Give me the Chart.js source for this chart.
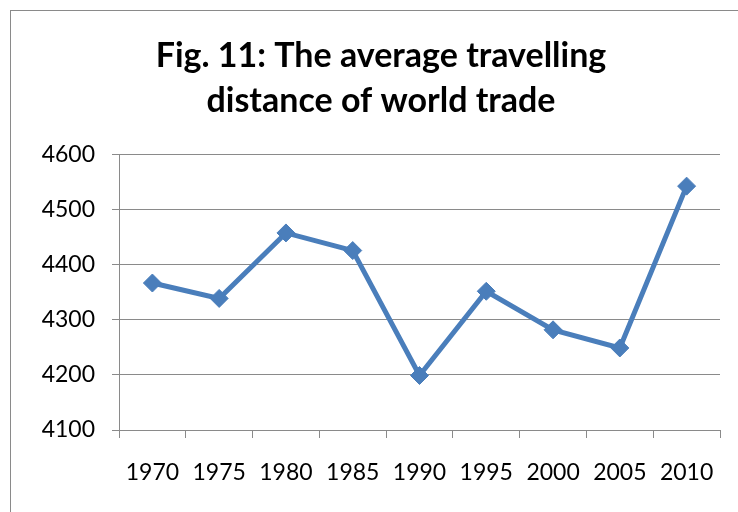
<!DOCTYPE html>
<html>
<head>
<meta charset="utf-8">
<script src="https://cdn.jsdelivr.net/npm/chart.js@4"></script>
<style>
  html, body { margin: 0; padding: 0; background: #fff; overflow: hidden; }
  #wrap { position: relative; width: 738px; height: 512px; overflow: hidden; }
  #frame { position: absolute; left: 10px; top: 10px; width: 760px; height: 520px; border: 1px solid #8a8a8a; box-sizing: border-box; }
  canvas { position: absolute; left: 0; top: 0; }
</style>
</head>
<body>
<div id="wrap">
  <div id="frame"></div>
  <canvas id="chart" width="762" height="512"></canvas>
</div>
<script>
// values
const years = ['1970', '1975', '1980', '1985', '1990', '1995', '2000', '2005', '2010'];
const distance = [4367, 4339, 4458, 4426, 4199, 4352, 4282, 4249, 4543];
const yMin = 4100;
const yMax = 4600;
const yStep = 100;
const titleLines = ['Fig. 11: The average travelling', 'distance of world trade'];

const font = 'Lato, "DejaVu Sans", sans-serif';
const gridGray = '#8a8a8a';
const blue = '#4a7ebb';

const ctx = document.getElementById('chart').getContext('2d');

new Chart(ctx, {
  type: 'line',
  data: {
    labels: years,
    datasets: [{
      data: distance,
      borderColor: blue,
      backgroundColor: blue,
      borderWidth: 5,
      tension: 0,
      pointStyle: 'rectRot',
      pointRadius: 9,
      pointBorderWidth: 1,
      pointBackgroundColor: blue,
      pointBorderColor: blue,
    }],
  },
  options: {
    responsive: false,
    animation: false,
    layout: { padding: 0 },
    plugins: {
      legend: { display: false },
      tooltip: { enabled: false },
      title: {
        display: true,
        text: titleLines,
        color: '#000',
        font: { family: font, size: 34, weight: 'bold', lineHeight: 1.32 },
        padding: { top: 34, bottom: 31 },
      },
    },
    scales: {
      x: {
        offset: true,
        grid: {
          offset: true,
          drawOnChartArea: false,
          drawTicks: true,
          tickLength: 8,
          color: gridGray,
        },
        border: { display: true, color: gridGray, width: 1 },
        ticks: {
          color: '#000',
          font: { family: font, size: 23 },
          padding: 21,
          maxRotation: 0,
          autoSkip: false,
        },
        afterFit: (scale) => { scale.height = 82; },
      },
      y: {
        min: yMin,
        max: yMax,
        grid: {
          color: gridGray,
          tickLength: 7,
        },
        border: { display: true, color: gridGray, width: 1 },
        ticks: {
          stepSize: yStep,
          color: '#000',
          font: { family: font, size: 23 },
          padding: 17,
          callback: (value) => String(value),
        },
        afterFit: (scale) => { scale.width = 119; },
      },
      y2: {
        position: 'right',
        display: true,
        grid: { display: false, drawTicks: false },
        border: { display: false },
        ticks: { display: false },
        afterFit: (scale) => { scale.width = 42; },
      },
    },
  },
});
</script>
</body>
</html>
